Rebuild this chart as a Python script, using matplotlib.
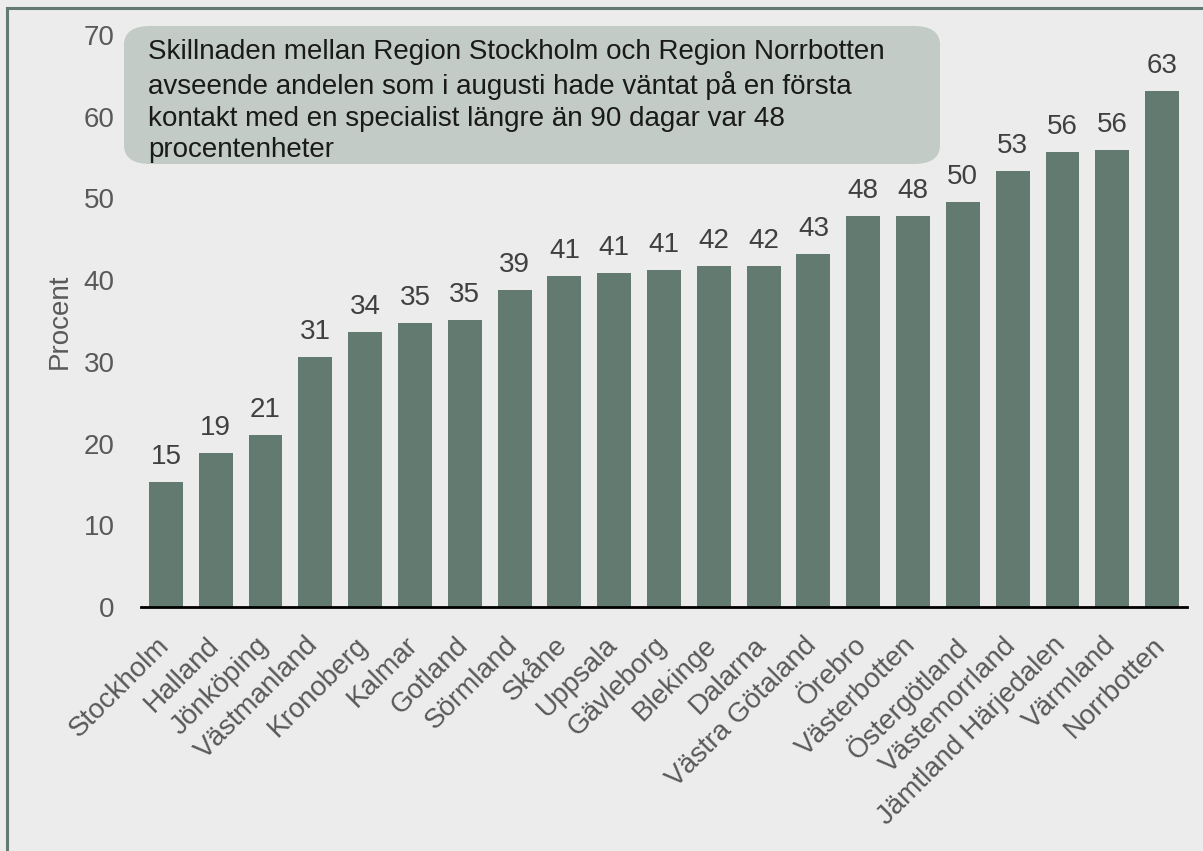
import matplotlib
matplotlib.use("Agg")
import matplotlib.pyplot as plt
from matplotlib.lines import Line2D
from matplotlib.patches import FancyBboxPatch
from matplotlib.transforms import ScaledTranslation

plt.rcParams['font.family'] = ['Liberation Sans', 'DejaVu Sans']

# --- Data ---
regions = ["Stockholm", "Halland", "Jönköping", "Västmanland", "Kronoberg", "Kalmar",
           "Gotland", "Sörmland", "Skåne", "Uppsala", "Gävleborg", "Blekinge", "Dalarna",
           "Västra Götaland", "Örebro", "Västerbotten", "Östergötland", "Västemorrland",
           "Jämtland Härjedalen", "Värmland", "Norrbotten"]
values = [15.3, 18.8, 21.1, 30.6, 33.6, 34.8, 35.1, 38.8, 40.5, 40.9, 41.2,
          41.7, 41.7, 43.2, 47.8, 47.8, 49.6, 53.4, 55.7, 55.9, 63.2]
labels = [15, 19, 21, 31, 34, 35, 35, 39, 41, 41, 41, 42, 42, 43, 48, 48, 50, 53, 56, 56, 63]
yticks = [0, 10, 20, 30, 40, 50, 60, 70]
note = ("Skillnaden mellan Region Stockholm och Region Norrbotten\n"
        "avseende andelen som i augusti hade väntat på en första\n"
        "kontakt med en specialist längre än 90 dagar var 48\n"
        "procentenheter")

bg = "#ececec"
bar_col = "#637a70"

W, H = 1203, 851
fig = plt.figure(figsize=(W / 100, H / 100), dpi=100, facecolor=bg)
ax = fig.add_axes([141 / W, 1 - 607 / H, (1187 - 141) / W, (607 - 35) / H])
ax.set_facecolor(bg)

x = range(len(regions))
bars = ax.bar(x, values, width=0.68, color=bar_col, zorder=2)
for b, lab in zip(bars, labels):
    ax.text(b.get_x() + b.get_width() / 2, b.get_height() + 2.2, str(lab),
            ha="center", va="baseline", fontsize=20, color="#404040")

ax.set_xlim(-0.5, len(regions) - 0.5)
ax.set_ylim(0, 70)
ax.set_yticks(yticks)
ax.set_yticklabels([str(t) for t in yticks], fontsize=20, color="#595959")
ax.set_xticks(list(x))
ax.set_xticklabels([])

# rotated category labels, anchored a little below-left of each tick
off = ScaledTranslation(-10 / 100, -25 / 100, fig.dpi_scale_trans)
for i, name in zip(x, regions):
    ax.text(i, 0, name, transform=ax.get_xaxis_transform() + off,
            rotation=45, ha="right", va="top", rotation_mode="anchor",
            fontsize=20, color="#595959")

ax.tick_params(axis="both", length=0)
ax.tick_params(axis="y", pad=19)
for s in ["top", "right", "left"]:
    ax.spines[s].set_visible(False)
ax.spines["bottom"].set_linewidth(2)
ax.spines["bottom"].set_color("black")
ax.set_ylabel("Procent", fontsize=20, color="#595959", labelpad=8)

# annotation box
box = FancyBboxPatch((124 / W, 1 - 164 / H), (940 - 124) / W, (164 - 26) / H,
                     boxstyle="round,pad=0,rounding_size=0.022",
                     transform=fig.transFigure, facecolor="#c2cbc5",
                     edgecolor="none", zorder=3)
fig.patches.append(box)
fig.text(148 / W, 1 - 101 / H, note, ha="left", va="center", fontsize=20,
         color="#1a1a1a", linespacing=1.28, zorder=4)

# frame lines (left and top)
fig.lines.append(Line2D([7 / W, 7 / W], [0, 1 - 7.5 / H], transform=fig.transFigure,
                        color=bar_col, linewidth=2.2))
fig.lines.append(Line2D([7 / W, 1], [1 - 7.5 / H, 1 - 7.5 / H], transform=fig.transFigure,
                        color=bar_col, linewidth=2.2))

fig.savefig("out.png", dpi=100, facecolor=bg)
